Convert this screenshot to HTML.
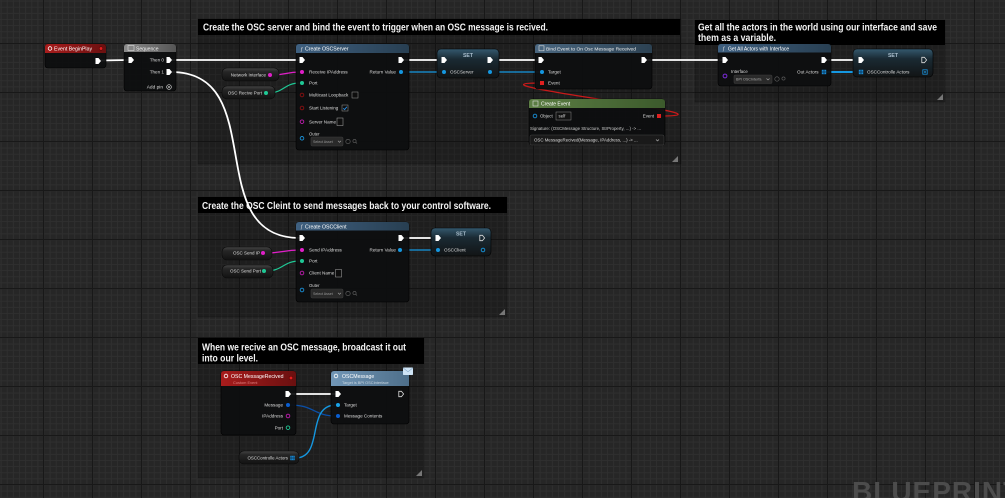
<!DOCTYPE html>
<html><head><meta charset="utf-8"><style>
html,body{margin:0;padding:0;background:#262626;overflow:hidden;width:1005px;height:498px}
svg{display:block}
text{font-family:"Liberation Sans",sans-serif}
</style></head><body>
<svg width="1005" height="498" viewBox="0 0 1005 498" xmlns="http://www.w3.org/2000/svg">
<defs>
<pattern id="minor" width="6.125" height="6.125" patternUnits="userSpaceOnUse" x="43.5" y="43.5">
<path d="M0 0.5H6.125M0.5 0V6.125" stroke="#2f2f2f" stroke-width="1"/>
</pattern>
<pattern id="major" width="49" height="49" patternUnits="userSpaceOnUse" x="43" y="43">
<path d="M0 0.5H49M0.5 0V49" stroke="#181818" stroke-width="1.2"/>
</pattern>
<linearGradient id="gFunc" x1="0" x2="1" y1="0" y2="0"><stop offset="0" stop-color="#3f6080"/><stop offset="1" stop-color="#283f52"/></linearGradient>
<linearGradient id="gBind" x1="0" x2="1" y1="0" y2="0"><stop offset="0" stop-color="#4a6780"/><stop offset="1" stop-color="#2c4152"/></linearGradient>
<linearGradient id="gEvt" x1="0" x2="1" y1="0" y2="0"><stop offset="0" stop-color="#a81c1c"/><stop offset="1" stop-color="#6a1010"/></linearGradient>
<linearGradient id="gSeq" x1="0" x2="1" y1="0" y2="0"><stop offset="0" stop-color="#8c8c8c"/><stop offset="1" stop-color="#555"/></linearGradient>
<linearGradient id="gGrn" x1="0" x2="1" y1="0" y2="0"><stop offset="0" stop-color="#5c7e44"/><stop offset="1" stop-color="#3c5a2c"/></linearGradient>
<linearGradient id="gMsg" x1="0" x2="1" y1="0" y2="0"><stop offset="0" stop-color="#7196b6"/><stop offset="1" stop-color="#4e6f8a"/></linearGradient>
<linearGradient id="gSet" x1="0" x2="0" y1="0" y2="1"><stop offset="0" stop-color="#34596e"/><stop offset="0.35" stop-color="#1a2a33"/><stop offset="1" stop-color="#121415"/></linearGradient>
<linearGradient id="gPill" x1="0" x2="0" y1="0" y2="1"><stop offset="0" stop-color="#444"/><stop offset="0.3" stop-color="#252525"/><stop offset="1" stop-color="#121212"/></linearGradient>
<g id="ex"><path d="M-2.5,-3h3l2.5,3l-2.5,3h-3z" fill="#fff"/></g>
<g id="exo"><path d="M-2.2,-2.7h2.6l2.2,2.7l-2.2,2.7h-2.6z" fill="none" stroke="#ddd" stroke-width="0.8"/></g>
<g id="arr"><rect x="-2.2" y="-2.2" width="4.4" height="4.4" fill="#1a8fd8"/><path d="M-0.7,-2.2v4.4M0.7,-2.2v4.4M-2.2,-0.7h4.4M-2.2,0.7h4.4" stroke="#0a3050" stroke-width="0.4"/></g>
<g id="drop"><rect x="0" y="0" width="32" height="9" rx="1.5" fill="#2a2a2a" stroke="#3c3c3c" stroke-width="0.6"/><path d="M27,3.8l1.5,1.5l1.5,-1.5" fill="none" stroke="#aaa" stroke-width="0.6"/><circle cx="37" cy="4.5" r="2.2" fill="none" stroke="#666" stroke-width="0.6"/><circle cx="43.5" cy="4" r="1.6" fill="none" stroke="#666" stroke-width="0.6"/><path d="M44.6,5.1l1.4,1.4" stroke="#666" stroke-width="0.6"/></g>
</defs>

<!-- grid -->
<rect width="1005" height="498" fill="#262626"/>
<rect width="1005" height="498" fill="url(#minor)"/>
<rect width="1005" height="498" fill="url(#major)"/>

<!-- comments -->
<rect x="198" y="19" width="483" height="145" fill="rgba(0,0,0,0.2)" stroke="rgba(0,0,0,0.3)" stroke-width="0.6"/>
<rect x="198" y="19" width="482" height="16" fill="#000"/>
<text x="203" y="30.6" font-size="10" font-weight="bold" fill="#f2f2f2" textLength="345" lengthAdjust="spacingAndGlyphs">Create the OSC server and bind the event to trigger when an OSC message is recived.</text>
<path d="M678,156L678,162L672,162Z" fill="#777"/>

<rect x="695" y="20" width="250" height="82" fill="rgba(0,0,0,0.2)" stroke="rgba(0,0,0,0.3)" stroke-width="0.6"/>
<rect x="695" y="20" width="250" height="25" fill="#000"/>
<text x="698" y="30.6" font-size="10" font-weight="bold" fill="#f2f2f2" textLength="239" lengthAdjust="spacingAndGlyphs">Get all the actors in the world using our interface and save</text>
<text x="698" y="41" font-size="10" font-weight="bold" fill="#f2f2f2" textLength="78" lengthAdjust="spacingAndGlyphs">them as a variable.</text>
<path d="M943,94L943,100L937,100Z" fill="#777"/>

<rect x="198" y="197" width="309" height="120" fill="rgba(0,0,0,0.2)" stroke="rgba(0,0,0,0.3)" stroke-width="0.6"/>
<rect x="198" y="197" width="309" height="16" fill="#000"/>
<text x="202" y="209" font-size="10" font-weight="bold" fill="#f2f2f2" textLength="289" lengthAdjust="spacingAndGlyphs">Create the OSC Cleint to send messages back to your control software.</text>
<path d="M505,309L505,315L499,315Z" fill="#777"/>

<rect x="198" y="338" width="226" height="140" fill="rgba(0,0,0,0.2)" stroke="rgba(0,0,0,0.3)" stroke-width="0.6"/>
<rect x="198" y="338" width="226" height="26" fill="#000"/>
<text x="202" y="350.6" font-size="10" font-weight="bold" fill="#f2f2f2" textLength="204" lengthAdjust="spacingAndGlyphs">When we recive an OSC message, broadcast it out</text>
<text x="202" y="361.6" font-size="10" font-weight="bold" fill="#f2f2f2" textLength="56" lengthAdjust="spacingAndGlyphs">into our level.</text>
<path d="M422,470L422,476L416,476Z" fill="#777"/>

<!-- watermark -->
<text x="852" y="501" font-size="28" font-weight="bold" fill="#4c4c4c" letter-spacing="1">BLUEPRINT</text>

<!-- wires -->
<g fill="none" stroke-linecap="round">
<path d="M100,60.5L129,60" stroke="#fff" stroke-width="1.8"/>
<path d="M171,60L300,60" stroke="#fff" stroke-width="1.8"/>
<path d="M171,72C271,72 200,238 300,238" stroke="#fff" stroke-width="1.8"/>
<path d="M272,75C286,75 286,72 300,72" stroke="#e01fc8" stroke-width="1.3"/>
<path d="M268,93C284,93 284,83 300,83" stroke="#1fc895" stroke-width="1.3"/>
<path d="M404,60L441,60" stroke="#fff" stroke-width="1.8"/>
<path d="M403,72L442,72" stroke="#1597e0" stroke-width="1.3"/>
<path d="M493,60L538,60" stroke="#fff" stroke-width="1.8"/>
<path d="M492,72L540,72" stroke="#1597e0" stroke-width="1.3"/>
<path d="M647,60L722,60" stroke="#fff" stroke-width="1.8"/>
<path d="M827,60L858,60" stroke="#fff" stroke-width="1.8"/>
<path d="M827,72L859,72" stroke="#1597e0" stroke-width="2"/>
<path d="M661,116C751,116 452,83 540,83" stroke="#c81a1a" stroke-width="1.3"/>
<path d="M404,238L435,238" stroke="#fff" stroke-width="1.8"/>
<path d="M402,250L436,250" stroke="#1597e0" stroke-width="1.3"/>
<path d="M265,253C283,253 283,250 300,250" stroke="#e01fc8" stroke-width="1.3"/>
<path d="M266,271C283,271 283,261 300,261" stroke="#1fc895" stroke-width="1.3"/>
<path d="M291,394L335,394" stroke="#fff" stroke-width="1.8"/>
<path d="M290,405C314,405 314,416 336,416" stroke="#0a4fa8" stroke-width="1.3"/>
<path d="M295,458C325,458 305,405 336,405" stroke="#1597e0" stroke-width="1.4"/>
</g>

<!-- Event BeginPlay -->
<rect x="45" y="44" width="61" height="24" rx="3" fill="rgba(13,14,15,0.93)" stroke="#000" stroke-width="0.6"/>
<path d="M45,53V47Q45,44 48,44H103Q106,44 106,47V53Z" fill="url(#gEvt)"/>
<circle cx="50" cy="48.5" r="1.8" fill="none" stroke="#fff" stroke-width="0.8"/>
<text x="54" y="50.6" font-size="5.2" fill="#fff">Event BeginPlay</text>
<circle cx="101" cy="48.5" r="1.8" fill="#e02020" stroke="#400" stroke-width="0.5"/>
<use href="#ex" x="98" y="61"/>

<!-- Sequence -->
<rect x="124" y="44" width="52" height="47" rx="3" fill="rgba(13,14,15,0.93)" stroke="#000" stroke-width="0.6"/>
<path d="M124,52V47Q124,44 127,44H173Q176,44 176,47V52Z" fill="url(#gSeq)"/>
<rect x="128" y="45.5" width="6" height="5" fill="none" stroke="#ddd" stroke-width="0.6"/>
<text x="136" y="50.3" font-size="5" fill="#eee">Sequence</text>
<use href="#ex" x="131" y="60"/>
<text x="164" y="61.6" font-size="4.6" fill="#ddd" text-anchor="end">Then 0</text>
<use href="#ex" x="169" y="60"/>
<text x="164" y="73.6" font-size="4.6" fill="#ddd" text-anchor="end">Then 1</text>
<use href="#ex" x="169" y="72"/>
<text x="163" y="88.6" font-size="4.8" fill="#ddd" text-anchor="end">Add pin</text>
<circle cx="169" cy="87" r="2.3" fill="none" stroke="#ddd" stroke-width="0.7"/>
<circle cx="169" cy="87" r="0.9" fill="#ddd"/>

<!-- variable pills -->
<rect x="222" y="68" width="57" height="13" rx="5" fill="url(#gPill)" stroke="#0a0a0a" stroke-width="0.6"/>
<text x="266" y="76.6" font-size="4.5" fill="#ddd" text-anchor="end">Network Interface</text>
<circle cx="270" cy="75" r="2" fill="#e01fc8"/>
<rect x="222" y="86" width="53" height="13" rx="5" fill="url(#gPill)" stroke="#0a0a0a" stroke-width="0.6"/>
<text x="262" y="94.6" font-size="4.5" fill="#ddd" text-anchor="end">OSC Recive Port</text>
<circle cx="266" cy="93" r="2" fill="#1fc895"/>

<!-- Create OSCServer -->
<rect x="296" y="44" width="113" height="106" rx="3" fill="rgba(13,14,15,0.93)" stroke="#000" stroke-width="0.6"/>
<path d="M296,53V47Q296,44 299,44H406Q409,44 409,47V53Z" fill="url(#gFunc)"/>
<text x="300" y="50.8" font-size="5.5" fill="#ddd" font-style="italic">ƒ</text>
<text x="305" y="50.6" font-size="5.2" fill="#fff">Create OSCServer</text>
<use href="#ex" x="302" y="60"/>
<use href="#ex" x="401" y="60"/>
<circle cx="302" cy="72" r="2" fill="#e01fc8"/>
<text x="309" y="73.6" font-size="4.6" fill="#ddd">Receive IPAddress</text>
<text x="396" y="73.6" font-size="4.6" fill="#ddd" text-anchor="end">Return Value</text>
<circle cx="401" cy="72" r="2" fill="#1597e0"/>
<circle cx="302" cy="83" r="2" fill="#1fc895"/>
<text x="309" y="84.6" font-size="4.6" fill="#ddd">Port</text>
<circle cx="302" cy="95" r="1.8" fill="none" stroke="#8a1010" stroke-width="0.9"/>
<text x="309" y="96.6" font-size="4.6" fill="#ddd">Multicast Loopback</text>
<rect x="352" y="92" width="6" height="6" fill="#0e0e0e" stroke="#999" stroke-width="0.5"/>
<circle cx="302" cy="108" r="1.8" fill="none" stroke="#8a1010" stroke-width="0.9"/>
<text x="309" y="109.6" font-size="4.6" fill="#ddd">Start Listening</text>
<rect x="342" y="105" width="6" height="6" fill="#0e0e0e" stroke="#999" stroke-width="0.5"/>
<path d="M343.3,108.3l1.3,1.3l2.2,-2.8" fill="none" stroke="#2a8fe8" stroke-width="0.9"/>
<circle cx="302" cy="121.7" r="1.8" fill="none" stroke="#c01cb0" stroke-width="0.9"/>
<text x="309" y="123.3" font-size="4.6" fill="#ddd">Server Name</text>
<rect x="337" y="118" width="6" height="7.5" fill="#0e0e0e" stroke="#aaa" stroke-width="0.5"/>
<text x="309" y="135.5" font-size="4.2" fill="#ddd">Outer</text>
<circle cx="302" cy="138.3" r="1.8" fill="none" stroke="#1a90d8" stroke-width="0.9"/>
<use href="#drop" x="311" y="137"/>
<text x="313" y="142.8" font-size="3.6" fill="#999">Select Asset</text>

<!-- SET 1 -->
<rect x="437" y="49" width="62" height="29" rx="4" fill="url(#gSet)" stroke="#000" stroke-width="0.6"/>
<text x="468" y="57" font-size="5.2" font-weight="bold" fill="#a8bccb" text-anchor="middle">SET</text>
<use href="#ex" x="444" y="60"/>
<use href="#ex" x="490" y="60"/>
<circle cx="444" cy="72" r="2" fill="#1597e0"/>
<text x="450" y="73.6" font-size="4.6" fill="#ddd">OSCServer</text>
<circle cx="490" cy="72" r="2" fill="#1597e0"/>

<!-- Bind Event -->
<rect x="535" y="44" width="117" height="45" rx="3" fill="rgba(13,14,15,0.93)" stroke="#000" stroke-width="0.6"/>
<path d="M535,53V47Q535,44 538,44H649Q652,44 652,47V53Z" fill="url(#gBind)"/>
<rect x="539" y="45.8" width="5" height="5" fill="none" stroke="#ddd" stroke-width="0.6"/>
<text x="546" y="50.6" font-size="4.9" fill="#eee">Bind Event to On Osc Message Received</text>
<use href="#ex" x="541" y="60"/>
<use href="#ex" x="644" y="60"/>
<circle cx="542" cy="72" r="2" fill="#1597e0"/>
<text x="548" y="73.6" font-size="4.6" fill="#ddd">Target</text>
<rect x="540" y="81" width="4" height="4" fill="#e02020"/>
<text x="548" y="84.6" font-size="4.6" fill="#ddd">Event</text>

<!-- Create Event -->
<rect x="529" y="99" width="136" height="46" rx="3" fill="rgba(13,14,15,0.95)" stroke="#000" stroke-width="0.6"/>
<path d="M529,108V102Q529,99 532,99H662Q665,99 665,102V108Z" fill="url(#gGrn)"/>
<rect x="533" y="101" width="5" height="5" fill="none" stroke="#ddd" stroke-width="0.6"/>
<text x="541" y="105.6" font-size="5" fill="#fff">Create Event</text>
<circle cx="535" cy="116" r="1.8" fill="none" stroke="#1a90d8" stroke-width="0.9"/>
<text x="540" y="117.6" font-size="4.4" fill="#ddd">Object</text>
<rect x="556" y="112" width="15" height="8" fill="#111" stroke="#888" stroke-width="0.5"/>
<text x="558.5" y="117.6" font-size="4.4" fill="#ddd">self</text>
<text x="654" y="117.6" font-size="4.4" fill="#ddd" text-anchor="end">Event</text>
<rect x="657" y="114" width="4" height="4" fill="#e02020"/>
<text x="530" y="130.2" font-size="4.4" fill="#ccc">Signature: (OSCMessage Structure, StrProperty, ...) -&gt; ...</text>
<rect x="530" y="135" width="134" height="10" rx="1.5" fill="#1a1a1a" stroke="#444" stroke-width="0.5"/>
<text x="534" y="141.6" font-size="4.4" fill="#ddd">OSC MessageRecived(Message, IPAddress, ...) -&gt; ...</text>
<path d="M656,139.5l1.5,1.5l1.5,-1.5" fill="none" stroke="#bbb" stroke-width="0.6"/>

<!-- Get All Actors -->
<rect x="718" y="44" width="113" height="42" rx="3" fill="rgba(13,14,15,0.93)" stroke="#000" stroke-width="0.6"/>
<path d="M718,52.5V47Q718,44 721,44H828Q831,44 831,47V52.5Z" fill="url(#gFunc)"/>
<text x="722" y="50.6" font-size="5.5" fill="#ddd" font-style="italic">ƒ</text>
<text x="728" y="50.4" font-size="5" fill="#fff">Get All Actors with Interface</text>
<use href="#ex" x="725" y="60"/>
<use href="#ex" x="824" y="60"/>
<text x="731" y="73.2" font-size="4.3" fill="#ddd">Interface</text>
<circle cx="725" cy="76" r="1.9" fill="none" stroke="#7a2ad8" stroke-width="1"/>
<rect x="734" y="75" width="38" height="8.5" rx="1.5" fill="#2a2a2a" stroke="#3c3c3c" stroke-width="0.6"/>
<text x="736" y="80.7" font-size="3.7" fill="#aaa">BPI OSCInterfa</text>
<path d="M766.5,78.5l1.5,1.5l1.5,-1.5" fill="none" stroke="#aaa" stroke-width="0.6"/>
<circle cx="777" cy="79" r="2.2" fill="none" stroke="#666" stroke-width="0.6"/>
<circle cx="783.5" cy="78.5" r="1.6" fill="none" stroke="#666" stroke-width="0.6"/>
<text x="818.5" y="73.6" font-size="4.6" fill="#ddd" text-anchor="end">Out Actors</text>
<use href="#arr" x="824" y="72"/>

<!-- SET 2 -->
<rect x="853" y="49" width="80" height="28" rx="4" fill="url(#gSet)" stroke="#000" stroke-width="0.6"/>
<text x="893" y="57" font-size="5.2" font-weight="bold" fill="#a8bccb" text-anchor="middle">SET</text>
<use href="#ex" x="861" y="60"/>
<use href="#exo" x="924" y="60"/>
<use href="#arr" x="861" y="72"/>
<text x="867" y="73.6" font-size="4.6" fill="#ddd">OSCControlle Actors</text>
<rect x="922.8" y="69.8" width="4.4" height="4.4" fill="none" stroke="#1a8fd8" stroke-width="0.8"/>
<rect x="924.2" y="71.2" width="1.6" height="1.6" fill="#1a8fd8"/>

<!-- Create OSCClient -->
<rect x="296" y="222" width="113" height="80" rx="3" fill="rgba(13,14,15,0.93)" stroke="#000" stroke-width="0.6"/>
<path d="M296,230.5V225Q296,222 299,222H406Q409,222 409,225V230.5Z" fill="url(#gFunc)"/>
<text x="300" y="228.6" font-size="5.5" fill="#ddd" font-style="italic">ƒ</text>
<text x="305" y="228.4" font-size="5.2" fill="#fff">Create OSCClient</text>
<use href="#ex" x="302" y="238"/>
<use href="#ex" x="401" y="238"/>
<circle cx="302" cy="250" r="2" fill="#e01fc8"/>
<text x="309" y="251.6" font-size="4.6" fill="#ddd">Send IPAddress</text>
<text x="396" y="251.6" font-size="4.6" fill="#ddd" text-anchor="end">Return Value</text>
<circle cx="400" cy="250" r="2" fill="#1597e0"/>
<circle cx="302" cy="261" r="2" fill="#1fc895"/>
<text x="309" y="262.6" font-size="4.6" fill="#ddd">Port</text>
<circle cx="302" cy="273" r="1.8" fill="none" stroke="#c01cb0" stroke-width="0.9"/>
<text x="309" y="274.6" font-size="4.6" fill="#ddd">Client Name</text>
<rect x="335.5" y="269.5" width="6" height="7.5" fill="#0e0e0e" stroke="#aaa" stroke-width="0.5"/>
<text x="309" y="287" font-size="4.2" fill="#ddd">Outer</text>
<circle cx="302" cy="290" r="1.8" fill="none" stroke="#1a90d8" stroke-width="0.9"/>
<use href="#drop" x="311" y="289"/>
<text x="313" y="294.8" font-size="3.6" fill="#999">Select Asset</text>

<rect x="222" y="247" width="50" height="13" rx="5" fill="url(#gPill)" stroke="#0a0a0a" stroke-width="0.6"/>
<text x="260" y="254.6" font-size="4.5" fill="#ddd" text-anchor="end">OSC Send IP</text>
<circle cx="263" cy="253" r="2" fill="#e01fc8"/>
<rect x="222" y="265" width="51" height="13" rx="5" fill="url(#gPill)" stroke="#0a0a0a" stroke-width="0.6"/>
<text x="261" y="272.6" font-size="4.5" fill="#ddd" text-anchor="end">OSC Send Port</text>
<circle cx="264" cy="271" r="2" fill="#1fc895"/>

<!-- SET 3 -->
<rect x="431" y="228" width="60" height="28" rx="4" fill="url(#gSet)" stroke="#000" stroke-width="0.6"/>
<text x="461" y="235.6" font-size="5.2" font-weight="bold" fill="#a8bccb" text-anchor="middle">SET</text>
<use href="#ex" x="438" y="238"/>
<use href="#exo" x="482" y="238"/>
<circle cx="438" cy="250" r="2" fill="#1597e0"/>
<text x="444" y="251.6" font-size="4.6" fill="#ddd">OSCClient</text>
<circle cx="483" cy="250" r="1.8" fill="none" stroke="#1597e0" stroke-width="0.9"/>

<!-- OSC MessageRecived -->
<rect x="221" y="371" width="75" height="64" rx="3" fill="rgba(13,14,15,0.93)" stroke="#000" stroke-width="0.6"/>
<path d="M221,386V374Q221,371 224,371H293Q296,371 296,374V386Z" fill="url(#gEvt)"/>
<circle cx="226" cy="376" r="1.8" fill="none" stroke="#fff" stroke-width="0.8"/>
<text x="231" y="378" font-size="5.2" fill="#fff">OSC MessageRecived</text>
<text x="233" y="383.8" font-size="3.9" fill="#e08080">Custom Event</text>
<circle cx="291" cy="378" r="1.8" fill="#e02020" stroke="#400" stroke-width="0.5"/>
<use href="#ex" x="288" y="394"/>
<text x="283" y="406.6" font-size="4.6" fill="#ddd" text-anchor="end">Message</text>
<circle cx="288" cy="405" r="2" fill="#0a5ed0"/>
<text x="283" y="417.6" font-size="4.6" fill="#ddd" text-anchor="end">IPAddress</text>
<circle cx="288" cy="416" r="1.8" fill="none" stroke="#c01cb0" stroke-width="0.9"/>
<text x="283" y="429.3" font-size="4.6" fill="#ddd" text-anchor="end">Port</text>
<circle cx="288" cy="427.7" r="1.8" fill="none" stroke="#1fc895" stroke-width="0.9"/>

<!-- OSCMessage -->
<rect x="331" y="371" width="78" height="53" rx="3" fill="rgba(13,14,15,0.93)" stroke="#000" stroke-width="0.6"/>
<path d="M331,386V374Q331,371 334,371H406Q409,371 409,374V386Z" fill="url(#gMsg)"/>
<circle cx="336" cy="376" r="1.8" fill="none" stroke="#fff" stroke-width="0.8"/>
<text x="342" y="378" font-size="5.2" fill="#fff">OSCMessage</text>
<text x="342" y="383.8" font-size="3.9" fill="#c9d6e0">Target is BPI OSCInterface</text>
<rect x="403" y="367.5" width="10" height="7.5" rx="0.8" fill="#cfe4f5"/>
<path d="M403,367.8l5,4l5,-4" fill="none" stroke="#7fa4c4" stroke-width="0.6"/>
<use href="#ex" x="338" y="394"/>
<use href="#exo" x="401" y="394"/>
<circle cx="338" cy="405" r="2" fill="#1aa3e8"/>
<text x="344" y="406.6" font-size="4.6" fill="#ddd">Target</text>
<circle cx="338" cy="416" r="2" fill="#0a5ed0"/>
<text x="344" y="417.6" font-size="4.6" fill="#ddd">Message Contents</text>

<!-- OSCControlle Actors getter -->
<rect x="239" y="451" width="60" height="13" rx="5" fill="url(#gPill)" stroke="#0a0a0a" stroke-width="0.6"/>
<text x="288" y="459.6" font-size="4.4" fill="#ddd" text-anchor="end">OSCControlle Actors</text>
<use href="#arr" x="292.5" y="458"/>
</svg>
</body></html>
